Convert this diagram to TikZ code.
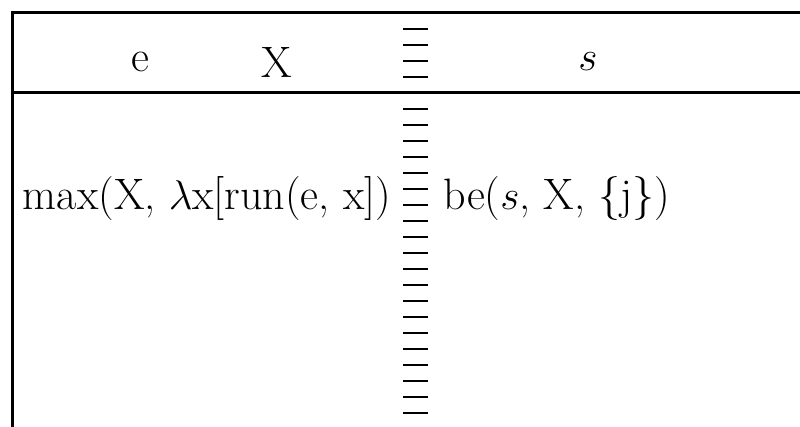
\documentclass[tikz,border=0pt]{standalone}
\usepackage{tikz}

\begin{document}
\begin{tikzpicture}[
  x=0.5pt, y=0.5pt,
  rule/.style={line width=1.5pt, black},
  tick/.style={line width=1.4pt, black},
  ref/.style={font=\fontsize{22}{26}\selectfont, inner sep=0pt},
  cond/.style={font=\fontsize{22}{26}\selectfont, inner sep=0pt}
]
\useasboundingbox (0,0) rectangle (800,427);

% box frame: left side, top and header rule
\draw[rule] (12,0) -- (12,414) -- (800,414);
\draw[rule] (12,334) -- (800,334);

% column of dashes between the two halves
\foreach \k in {0,...,24}
  \draw[tick] (403,398-16*\k) -- (428,398-16*\k);

% universe
\node[ref] (e) at (140,365) {e};
\node[ref] (X) at (277,365) {X};
\node[ref] (s) at (588,365) {$s$};

% conditions
\node[cond] (max) at (207,228) {max(X, $\lambda$x[run(e, x])};
\node[cond, anchor=west] (be) at (443,228) {be($s$, X, \{j\})};
\end{tikzpicture}
\end{document}
